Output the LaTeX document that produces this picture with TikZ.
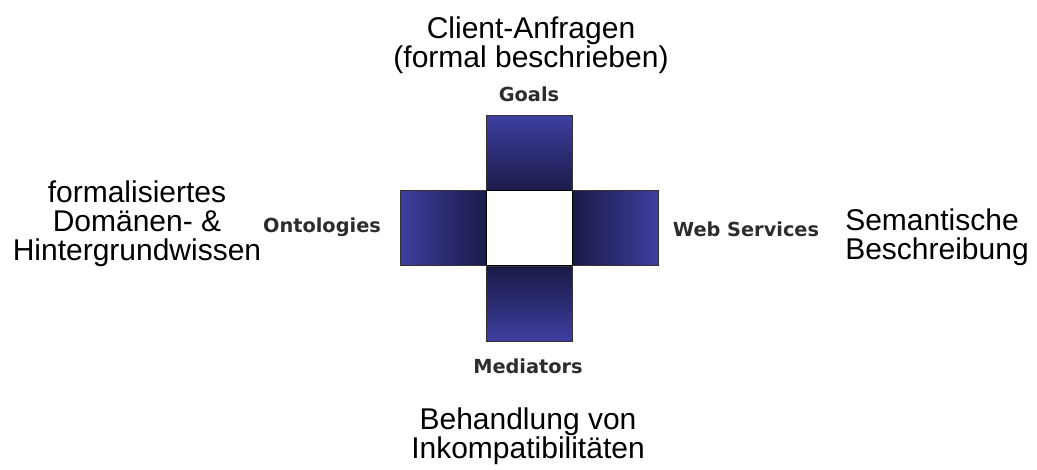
\documentclass[tikz,border=0pt]{standalone}
\usepackage{fontspec}
\setmainfont{Liberation Sans}
\newfontfamily\lblfont{DejaVu Sans}
\definecolor{boxlight}{RGB}{62,62,160}
\definecolor{boxdark}{RGB}{26,26,72}
\definecolor{lblgray}{RGB}{45,45,45}
\begin{document}
\begin{tikzpicture}[x=0.75pt,y=-0.75pt,
  arm/.style={draw=black!80,line width=0.75pt,minimum width=64.5pt,minimum height=56.25pt,inner sep=0pt},
  hub/.style={draw=black,line width=0.9pt,fill=white,minimum width=64.5pt,minimum height=56.25pt,inner sep=0pt},
  lbl/.style={font=\lblfont\bfseries\fontsize{14.5pt}{17pt}\selectfont,text=lblgray,inner sep=0pt},
  big/.style={font=\fontsize{22.5pt}{21.8pt}\selectfont,inner sep=0pt,align=center}]
\useasboundingbox (0,0) rectangle (1037,470);
\node[arm,top color=boxlight,bottom color=boxdark] (goals) at (529.5,153.5) {};
\node[arm,top color=boxdark,bottom color=boxlight] (mediators) at (529.5,304) {};
\node[arm,left color=boxlight,right color=boxdark] (ontologies) at (443.5,228) {};
\node[arm,left color=boxdark,right color=boxlight] (webservices) at (615.5,228) {};
\node[hub] (center) at (529.5,228) {};
\node[lbl] (lgoals) at (529,94) {Goals};
\node[lbl] (lonto) at (322,227) {Ontologies};
\node[lbl] (lws) at (746,229) {Web Services};
\node[lbl] (lmed) at (528,366) {Mediators};
\node[big] (tclient) at (531,45) {Client-Anfragen\\(formal beschrieben)};
\node[big] (tonto) at (137,224) {formalisiertes\\Domänen- \&\\Hintergrundwissen};
\node[big,align=left] (tws) at (937,237) {Semantische\\Beschreibung};
\node[big] (tmed) at (528,436) {Behandlung von\\Inkompatibilitäten};
\end{tikzpicture}
\end{document}
